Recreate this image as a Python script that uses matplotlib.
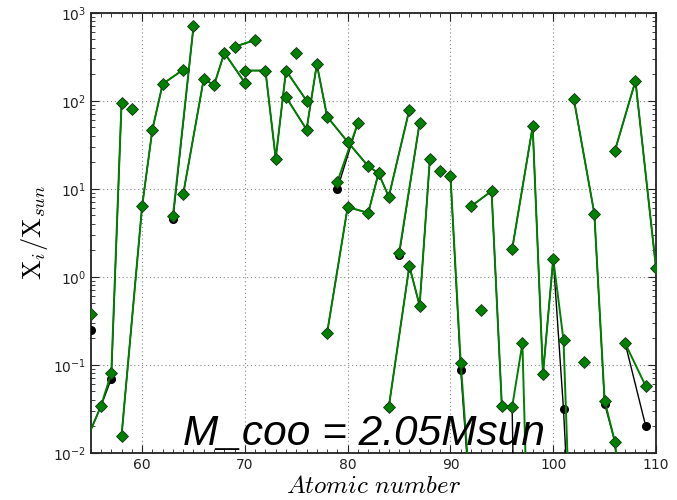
import numpy as np
import matplotlib
matplotlib.use("Agg")
import matplotlib.pyplot as plt
from matplotlib.ticker import LogLocator, MultipleLocator

nan = np.nan
# Atomic numbers (NaN separates unconnected chains)
z = [54, 56, 57, 58, nan,
     55, nan,
     59, nan,
     58, 60, 61, 62, 64, nan,
     63, 65, nan,
     64, 66, 67, 68, 70, nan,
     69, 71, nan,
     70, 72, 73, 74, 76, nan,
     74, 76, 77, 78, 80, 82, 83, 84, 86, nan,
     75, nan,
     78, 80, 82, 83, nan,
     79, 81, nan,
     84, 86, 87, 88, nan,
     85, 87, nan,
     89, nan,
     90, 91, 92, nan,
     92, 94, 95, 96, 97, 98, nan,
     93, nan,
     96, 98, 99, 100, 101, 102, nan,
     103, nan,
     102, 104, 105, 106, 107, nan,
     106, 108, 110, nan,
     107, 109]

# X_i/X_sun, green series
green = [0.0096, 0.034, 0.08, 95, nan,
         0.38, nan,
         81, nan,
         0.0156, 6.3, 47, 155, 225, nan,
         4.9, 700, nan,
         8.7, 178, 150, 350, 160, nan,
         410, 490, nan,
         220, 220, 22, 220, 100, nan,
         110, 47, 260, 66, 34, 18, 15, 8.1, 79, nan,
         345, nan,
         0.23, 6.2, 5.3, 15, nan,
         12, 56, nan,
         0.033, 1.32, 0.47, 22, nan,
         1.85, 56, nan,
         16, nan,
         14, 0.105, 0.0025, nan,
         6.3, 9.4, 0.034, 0.033, 0.175, 1e-5, nan,
         0.42, nan,
         2.05, 51, 0.078, 1.6, 0.19, 8e-5, nan,
         0.106, nan,
         105, 5.2, 0.039, 0.0133, 7e-4, nan,
         27, 168, 1.25, nan,
         0.175, 0.057]

# X_i/X_sun, black series
black = [0.0096, 0.034, 0.069, 95, nan,
         0.25, nan,
         81, nan,
         0.0156, 6.3, 47, 155, 225, nan,
         4.5, 700, nan,
         8.7, 178, 150, 350, 160, nan,
         410, 490, nan,
         220, 220, 22, 220, 100, nan,
         110, 47, 260, 66, 34, 18, 15, 8.1, 79, nan,
         345, nan,
         0.23, 6.2, 5.3, 15, nan,
         10, 56, nan,
         0.033, 1.32, 0.47, 22, nan,
         1.75, 56, nan,
         16, nan,
         14, 0.087, 0.002, nan,
         6.3, 9.4, 0.034, 0.033, 1e-8, 1e-8, nan,
         0.42, nan,
         2.05, 51, 0.078, 1.6, 0.031, 1.5e-4, nan,
         0.106, nan,
         105, 5.2, 0.036, 0.0133, 7e-4, nan,
         27, 168, 1.25, nan,
         0.175, 0.02]

fig = plt.figure(figsize=(6.77, 5.0), dpi=100)
ax = fig.add_axes([0.134, 0.0946, 0.835, 0.88])

ax.plot(z, black, '-o', color='black', lw=1.0, ms=5.5, mec='black', zorder=3)
ax.plot(z, green, '-D', color='#008000', lw=1.4, ms=6.5, mfc='#008000',
        mec='#1a3a1a', mew=0.6, zorder=4)

ax.set_yscale('log')
ax.set_xlim(55, 110)
ax.set_ylim(1e-2, 1e3)
ax.xaxis.set_major_locator(MultipleLocator(10))
ax.xaxis.set_minor_locator(MultipleLocator(1))
ax.yaxis.set_major_locator(LogLocator(base=10, numticks=10))
ax.yaxis.set_minor_locator(LogLocator(base=10, subs=np.arange(2, 10), numticks=20))

ax.grid(True, which='major', linestyle=(0, (1, 2.5)), color='#888888', lw=0.8)
ax.tick_params(which='both', direction='in', top=True, right=True,
               labelsize=10, colors='#222222')
ax.tick_params(which='major', length=6, width=0.8)
ax.tick_params(which='minor', length=3, width=0.6)
for s in ax.spines.values():
    s.set_linewidth(1.3)
    s.set_color('#222222')

ax.set_xlabel(r'$Atomic\ number$', fontsize=18, math_fontfamily='cm', labelpad=2)
ax.set_ylabel(r'$\mathrm{X}_i/\mathrm{X}_{sun}$', fontsize=19, math_fontfamily='cm', labelpad=2)

ax.text(0.163, 0.0175, 'M_coo = 2.05Msun', transform=ax.transAxes,
        fontsize=30.5, family='Liberation Sans', style='italic',
        ha='left', va='baseline', zorder=6)

fig.savefig('out.png', dpi=100)
